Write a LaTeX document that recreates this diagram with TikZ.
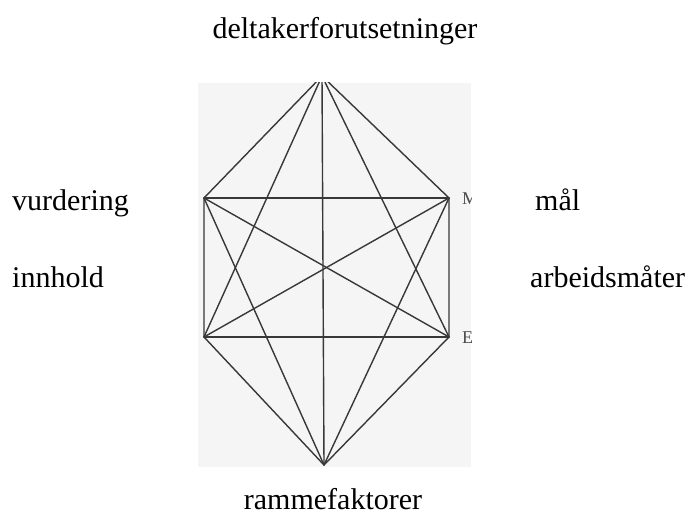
\documentclass[tikz,border=0pt]{standalone}
\usepackage{fontspec}
\setmainfont{Liberation Serif}
\begin{document}
\begin{tikzpicture}[x=1pt,y=-1pt,
  lbl/.style={font=\fontsize{30}{36}\selectfont, inner sep=0pt},
  frag/.style={font=\fontsize{18}{20}\selectfont, text=black!70, inner sep=0pt},
  edge/.style={draw=black!78, line width=1.4pt, line cap=round, line join=round}]
\useasboundingbox (0,0) rectangle (688,521);
\fill[black!4] (198,83) rectangle (471,467);
\begin{scope}
  \clip (198,83) rectangle (471,467);
  \coordinate (T)  at (322,76);
  \coordinate (UL) at (204,198);
  \coordinate (UR) at (449,198);
  \coordinate (LL) at (204,337);
  \coordinate (LR) at (449,337);
  \coordinate (B)  at (324,465);
  % outline
  \draw[edge] (T) -- (UL) -- (LL) -- (B) -- (LR) -- (UR) -- cycle;
  % rectangle horizontals
  \draw[edge] (UL) -- (UR);
  \draw[edge] (LL) -- (LR);
  % diagonals
  \draw[edge] (UL) -- (LR);
  \draw[edge] (UR) -- (LL);
  \draw[edge] (T) -- (B);
  \draw[edge] (T) -- (LL);
  \draw[edge] (T) -- (LR);
  \draw[edge] (B) -- (UL);
  \draw[edge] (B) -- (UR);
  % scan fragments at the right edge
  \node[frag, anchor=base west] (fragN) at (462,205) {M};
  \node[frag, anchor=base west] (fragE) at (462,344) {E};
\end{scope}
\node[lbl, anchor=base] (deltaker) at (345,39) {deltakerforutsetninger};
\node[lbl, anchor=base west] (vurdering) at (12,211) {vurdering};
\node[lbl, anchor=base west] (innhold) at (12,288) {innhold};
\node[lbl, anchor=base west] (maal) at (535,211) {mål};
\node[lbl, anchor=base west] (arbeid) at (530,288) {arbeidsmåter};
\node[lbl, anchor=base] (ramme) at (333,509) {rammefaktorer};
\end{tikzpicture}
\end{document}
